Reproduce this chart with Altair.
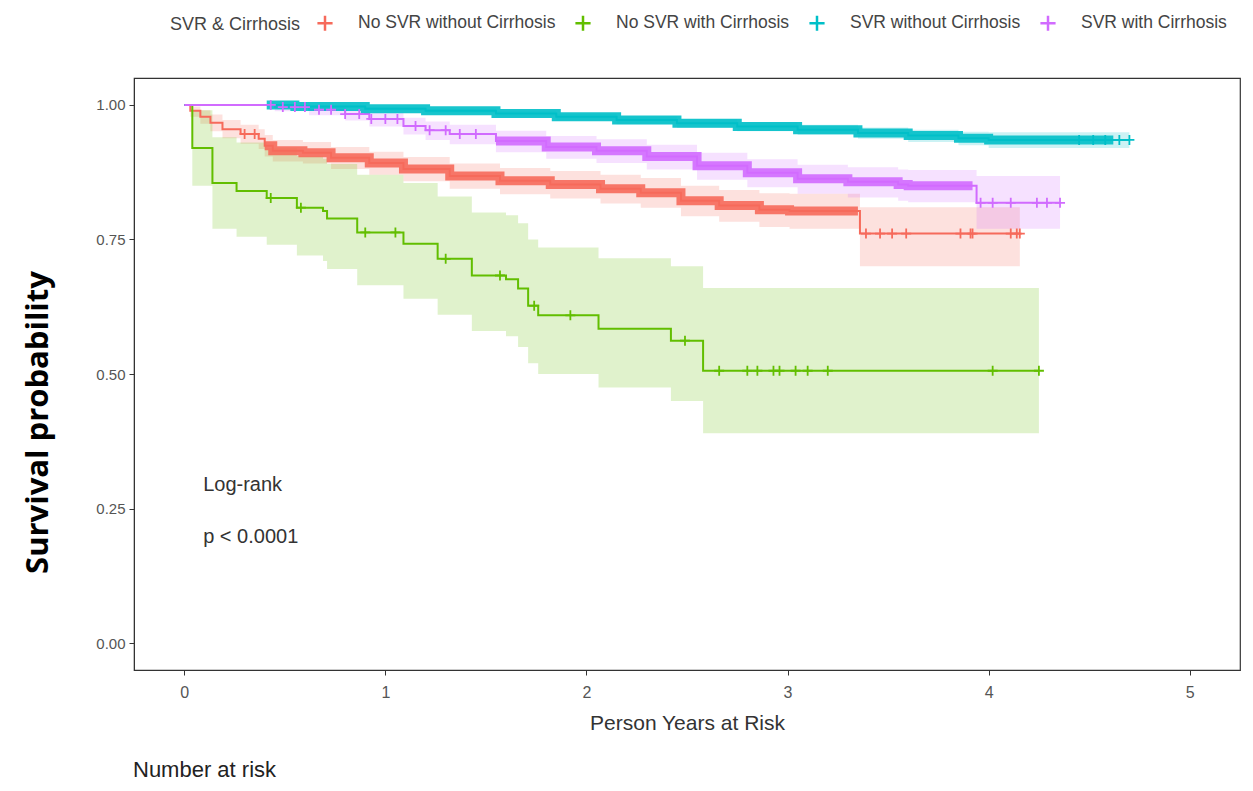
import altair as alt
import pandas as pd

FONT = "Liberation Sans, Arial, sans-serif"
PLUS = "M-1,0L1,0M0,-1L0,1"

groups = ["No SVR without Cirrhosis", "No SVR with Cirrhosis",
          "SVR without Cirrhosis", "SVR with Cirrhosis"]
colors = ["#F66A5B", "#62BE00", "#00BFC8", "#D16BFF"]

# No SVR without Cirrhosis
red_time = [0, .03, .08, .13, .19, .28, .37, .40, .44, .59, .73, .92, 1.09, 1.32, 1.57, 1.82,
            2.07, 2.27, 2.47, 2.66, 2.86, 3.01, 3.36]
red_surv = [1.0, .989, .978, .967, .955, .946, .937, .924, .915, .911, .902, .892, .881, .868,
            .859, .852, .844, .837, .822, .813, .805, .803, .761]
red_upper = [1.0, .997, .99, .982, .972, .963, .955, .944, .935, .931, .922, .913, .903, .891,
             .883, .877, .870, .864, .850, .842, .836, .835, .810]
red_lower = [1.0, .978, .965, .951, .938, .928, .918, .904, .895, .891, .881, .870, .858, .844,
             .834, .826, .817, .809, .793, .783, .773, .770, .700]
red_end = 4.155
red_censor = [0.30, 0.35, 3.39, 3.46, 3.52, 3.59, 3.86, 3.91, 3.92, 4.11, 4.14, 4.155]
red_dense = [0.40, 3.35]

# No SVR with Cirrhosis
green_time = [0, .04, .14, .26, .41, .56, .69, .71, .86, 1.09, 1.26, 1.43, 1.60, 1.66, 1.71,
              1.76, 2.06, 2.42, 2.58]
green_surv = [1.0, .920, .855, .840, .827, .809, .803, .789, .763, .742, .714, .683, .676,
              .659, .627, .609, .584, .562, .506]
green_upper = [1.0, .99, .94, .93, .92, .905, .90, .89, .87, .855, .83, .80, .795, .78, .75,
               .735, .715, .70, .66]
green_lower = [1.0, .85, .77, .755, .74, .72, .71, .695, .665, .64, .61, .58, .57, .55, .52,
               .50, .475, .45, .39]
green_end = 4.25
green_censor = [0.43, 0.58, 0.90, 1.05, 1.30, 1.57, 1.74, 1.92, 2.49, 2.66, 2.80, 2.85, 2.93,
                2.96, 3.04, 3.10, 3.20, 4.02, 4.25]

# SVR without Cirrhosis
cyan_time = [0, .55, .9, 1.2, 1.55, 1.85, 2.15, 2.45, 2.75, 3.05, 3.35, 3.6, 3.85, 4.0]
cyan_surv = [1.0, .997, .993, .989, .984, .978, .972, .966, .96, .954, .948, .943, .938, .935]
cyan_upper = [1.0, .999, .996, .993, .989, .984, .979, .974, .968, .963, .958, .954, .950, .949]
cyan_lower = [1.0, .994, .989, .984, .978, .971, .964, .957, .951, .944, .937, .931, .925, .920]
cyan_end = 4.70
cyan_censor = [4.45, 4.52, 4.58, 4.65, 4.70]
cyan_dense = [0.41, 4.62]

# SVR with Cirrhosis
purple_time = [0, .45, .62, .8, .92, 1.09, 1.2, 1.32, 1.55, 1.8, 2.05, 2.3, 2.55, 2.8, 3.05,
               3.3, 3.55, 3.6, 3.94]
purple_surv = [1.0, .996, .991, .983, .974, .961, .953, .946, .933, .922, .915, .904, .887,
               .874, .863, .857, .852, .850, .818]
purple_upper = [1.0, 1.0, .998, .993, .986, .976, .969, .963, .952, .942, .936, .926, .911,
                .899, .889, .884, .880, .879, .868]
purple_lower = [1.0, .988, .981, .971, .960, .945, .935, .927, .912, .900, .892, .880, .861,
                .847, .835, .828, .822, .819, .770]
purple_end = 4.355
purple_censor = [0.43, 0.49, 0.55, 0.60, 0.67, 0.73, 0.80, 0.87, 0.93, 1.00, 1.06, 1.15, 1.22,
                 1.30, 1.37, 1.45, 3.96, 4.02, 4.11, 4.24, 4.29, 4.355]
purple_dense = [1.55, 3.92]

series = [
    (groups[0], red_time, red_surv, red_upper, red_lower, red_end, red_censor, red_dense),
    (groups[1], green_time, green_surv, green_upper, green_lower, green_end, green_censor, None),
    (groups[2], cyan_time, cyan_surv, cyan_upper, cyan_lower, cyan_end, cyan_censor, cyan_dense),
    (groups[3], purple_time, purple_surv, purple_upper, purple_lower, purple_end, purple_censor, purple_dense),
]
color_of = dict(zip(groups, colors))


def surv_at(times, surv, t):
    v = surv[0]
    for ti, si in zip(times, surv):
        if ti <= t:
            v = si
    return v


step_rows, cens_rows, dense_rows = [], [], []
for g, tt, ss, uu, ll, end, cens, dense in series:
    col = color_of[g]
    for t, s, u, l in zip(tt, ss, uu, ll):
        step_rows.append({"group": g, "col": col, "t": t, "s": s, "u": u, "l": l})
    step_rows.append({"group": g, "col": col, "t": end, "s": ss[-1], "u": uu[-1], "l": ll[-1]})
    for c in cens:
        cens_rows.append({"group": g, "col": col, "t": c, "s": surv_at(tt, ss, c)})
    if dense:
        a, b = dense
        dense_rows.append({"group": g, "col": col, "t": a, "s": surv_at(tt, ss, a)})
        for t, s in zip(tt, ss):
            if a < t < b:
                dense_rows.append({"group": g, "col": col, "t": t, "s": s})
        dense_rows.append({"group": g, "col": col, "t": b, "s": surv_at(tt, ss, b)})

steps = pd.DataFrame(step_rows)
cens_df = pd.DataFrame(cens_rows)
dense_df = pd.DataFrame(dense_rows)

xaxis = alt.Axis(values=[0, 1, 2, 3, 4, 5], format="d", labelFont=FONT, labelFontSize=16,
                 labelColor="#555", tickSize=5, labelPadding=9, titleFont=FONT,
                 titleFontSize=21, titleFontWeight="normal", titleColor="#333",
                 titleY=53, titleBaseline="middle")
yaxis = alt.Axis(values=[0, 0.25, 0.5, 0.75, 1.0], format=".2f", labelFont=FONT,
                 labelFontSize=15, labelColor="#555", tickSize=5, labelPadding=4,
                 titleFont="Open Sans, Noto Sans, sans-serif", titleFontSize=31,
                 titleFontWeight="bold", titleColor="#000", titleX=-96, titleY=344,
                 titleBaseline="middle", titleAlign="center", titleAngle=270)


def X(field="t"):
    return alt.X(f"{field}:Q", title="Person Years at Risk",
                 scale=alt.Scale(domain=[-0.25, 5.25], nice=False, zero=False), axis=xaxis)


def Y(field="s"):
    return alt.Y(f"{field}:Q", title="Survival probability",
                 scale=alt.Scale(domain=[-0.05, 1.05], nice=False, zero=False), axis=yaxis)


legend = alt.Legend(orient="none", legendX=36, legendY=-64, direction="horizontal",
                    title="SVR & Cirrhosis", titleOrient="left", titleFont=FONT,
                    titleFontSize=18, titleFontWeight="normal", titleColor="#444",
                    titlePadding=15, titleLimit=400, titleBaseline="middle",
                    labelFont=FONT, labelFontSize=17.5, labelColor="#444", labelLimit=400,
                    labelOffset=24, columnPadding=14, symbolType=PLUS, symbolSize=230,
                    symbolStrokeWidth=2.5)

bands = alt.Chart(steps).mark_area(interpolate="step-after", opacity=0.2).encode(
    x=X(), y=Y("u"), y2="l:Q", detail="group:N",
    fill=alt.Fill("col:N", scale=None))

lines = alt.Chart(steps).mark_line(interpolate="step-after", strokeWidth=2).encode(
    x=X(), y=Y(),
    color=alt.Color("group:N", scale=alt.Scale(domain=groups, range=colors), legend=legend))

dense = alt.Chart(dense_df).mark_line(interpolate="step-after", strokeWidth=9,
                                      opacity=0.9).encode(
    x=X(), y=Y(), detail="group:N", stroke=alt.Stroke("col:N", scale=None))

ticks = alt.Chart(cens_df).mark_point(shape=PLUS, size=100, strokeWidth=1.8, filled=False,
                                      opacity=1).encode(
    x=X(), y=Y(), stroke=alt.Stroke("col:N", scale=None))

logrank_label = ["Log-rank", "p < 0.0001"]
logrank_t = [0.094, 0.094]
logrank_s = [0.293, 0.197]
logrank = alt.Chart(pd.DataFrame({"label": logrank_label, "t": logrank_t, "s": logrank_s})).mark_text(
    align="left", baseline="middle", font=FONT, fontSize=20, color="#333").encode(
    x=X(), y=Y(), text="label:N")

risk = alt.Chart(pd.DataFrame({"label": ["Number at risk"]})).mark_text(
    align="left", baseline="middle", font=FONT, fontSize=22, color="#222").encode(
    x=alt.value(-1), y=alt.value(692), text="label:N")

chart = alt.layer(bands, lines, dense, ticks, logrank, risk).properties(
    width=1106, height=592,
    autosize=alt.AutoSizeParams(type="none"),
    padding={"left": 126, "top": 70, "right": 5, "bottom": 113},
).configure_view(stroke="#333", strokeWidth=1.2).configure_axis(
    grid=False, domainColor="#333", tickColor="#333")

chart.save("out.html", embed_options={"renderer": "svg", "actions": False})
